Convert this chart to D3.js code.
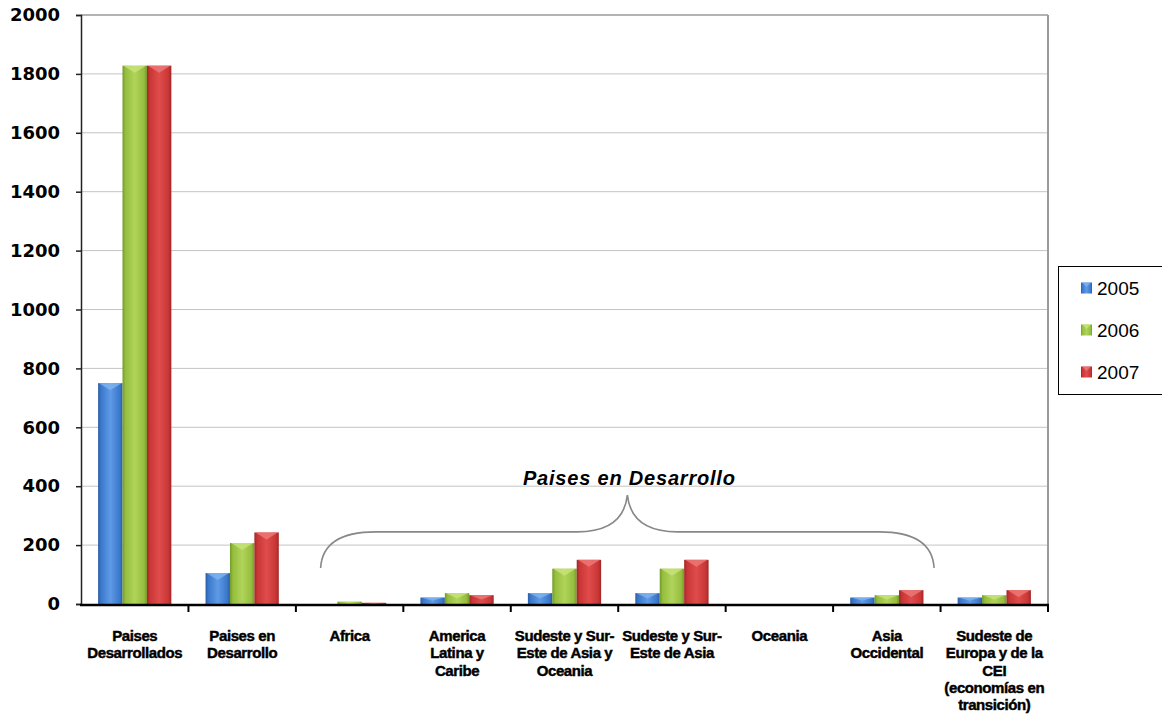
<!DOCTYPE html>
<html>
<head>
<meta charset="utf-8">
<script src="https://cdn.jsdelivr.net/npm/d3@7"></script>
<style>
  html, body { margin: 0; padding: 0; background: #fff; }
  svg { display: block; }
</style>
</head>
<body>
<svg id="chart" width="1162" height="716"></svg>
<script>
// ---- data ----
const categories = [
  "Paises Desarrollados",
  "Paises en Desarrollo",
  "Africa",
  "America Latina y Caribe",
  "Sudeste y Sur-Este de Asia y Oceania",
  "Sudeste y Sur-Este de Asia",
  "Oceania",
  "Asia Occidental",
  "Sudeste de Europa y de la CEI (economías en transición)"
];
const categoryLines = [
  ["Paises", "Desarrollados"],
  ["Paises en", "Desarrollo"],
  ["Africa"],
  ["America", "Latina y", "Caribe"],
  ["Sudeste y Sur-", "Este de Asia y", "Oceania"],
  ["Sudeste y Sur-", "Este de Asia"],
  ["Oceania"],
  ["Asia", "Occidental"],
  ["Sudeste de", "Europa y de la", "CEI", "(economías en", "transición)"]
];
const seriesNames = ["2005", "2006", "2007"];
const values2005 = [750, 105, 0, 22, 37, 37, 0, 22, 22];
const values2006 = [1828, 207, 8, 37, 120, 120, 0, 30, 30];
const values2007 = [1828, 243, 4, 30, 150, 150, 0, 47, 47];
const yTicks = [0, 200, 400, 600, 800, 1000, 1200, 1400, 1600, 1800, 2000];
const annotationText = "Paises en Desarrollo";
const seriesValues = [values2005, values2006, values2007];

const colors = {
  "2005": { base: "#3b78cb", light: "#5f9ae6", dark: "#2a5ea6", bevel: "#7fb4f0" },
  "2006": { base: "#95bd3e", light: "#b0d45a", dark: "#729a28", bevel: "#c8e47a" },
  "2007": { base: "#c93636", light: "#e04c4c", dark: "#a02626", bevel: "#ee7a7a" }
};

// ---- layout ----
const svg = d3.select("#chart");
const plot = { left: 81, right: 1048, top: 15, bottom: 604 };

const x0 = d3.scaleBand().domain(categories).range([plot.left, plot.right]).padding(0);
const x1 = d3.scaleBand().domain(seriesNames).range([0, x0.bandwidth()]).paddingInner(0).paddingOuter(0.7);
const y = d3.scaleLinear().domain([0, 2000]).range([plot.bottom, plot.top]);

// gradients
const defs = svg.append("defs");
seriesNames.forEach(s => {
  const g = defs.append("linearGradient").attr("id", "grad" + s)
    .attr("x1", "0%").attr("x2", "100%").attr("y1", "0%").attr("y2", "0%");
  g.append("stop").attr("offset", "0%").attr("stop-color", colors[s].dark);
  g.append("stop").attr("offset", "12%").attr("stop-color", colors[s].base);
  g.append("stop").attr("offset", "50%").attr("stop-color", colors[s].light);
  g.append("stop").attr("offset", "88%").attr("stop-color", colors[s].base);
  g.append("stop").attr("offset", "100%").attr("stop-color", colors[s].dark);
});

// background
svg.append("rect").attr("width", 1162).attr("height", 716).attr("fill", "#fff");

// gridlines
svg.append("g").selectAll("line")
  .data(yTicks.filter(t => t > 0))
  .join("line")
  .attr("x1", plot.left).attr("x2", plot.right)
  .attr("y1", d => y(d)).attr("y2", d => y(d))
  .attr("stroke", d => d === 2000 ? "#9a9a9a" : "#c4c4c4")
  .attr("stroke-width", d => d === 2000 ? 1.5 : 1);

// right border
svg.append("line")
  .attr("x1", plot.right).attr("x2", plot.right)
  .attr("y1", plot.top).attr("y2", plot.bottom)
  .attr("stroke", "#9a9a9a").attr("stroke-width", 2);

// bars
const flat = [];
categories.forEach((c, i) => {
  seriesNames.forEach((s, j) => {
    flat.push({ cat: c, series: s, value: seriesValues[j][i] });
  });
});

const barG = svg.append("g");
const bars = barG.selectAll("g.bar").data(flat.filter(d => d.value > 0)).join("g").attr("class", "bar");
bars.append("rect")
  .attr("x", d => x0(d.cat) + x1(d.series))
  .attr("y", d => y(d.value))
  .attr("width", x1.bandwidth())
  .attr("height", d => y(0) - y(d.value))
  .attr("fill", d => `url(#grad${d.series})`);
bars.append("path")
  .attr("d", d => {
    const xl = x0(d.cat) + x1(d.series);
    const w = x1.bandwidth();
    const top = y(d.value);
    const h = Math.min(7, (y(0) - top) * 0.5);
    return `M${xl + 1},${top}L${xl + w - 1},${top}L${xl + w / 2},${top + h}Z`;
  })
  .attr("fill", d => colors[d.series].bevel)
  .attr("opacity", 0.8);

// y axis
const yAxis = svg.append("g")
  .attr("transform", `translate(${plot.left},0)`)
  .call(d3.axisLeft(y).tickValues(yTicks).tickSize(5).tickPadding(16).tickFormat(d3.format("d")));
yAxis.select(".domain").attr("stroke", "#222").attr("stroke-width", 1.5);
yAxis.selectAll(".tick line").attr("stroke", "#222").attr("stroke-width", 1.5);
yAxis.selectAll(".tick text")
  .attr("font-family", "'DejaVu Sans', sans-serif")
  .attr("font-weight", "bold")
  .attr("font-size", 18)
  .attr("fill", "#000");

// x axis
const boundaries = categories.map(c => x0(c) + x0.bandwidth());
svg.append("line")
  .attr("x1", plot.left - 1).attr("x2", plot.right + 1)
  .attr("y1", y(0) + 1).attr("y2", y(0) + 1)
  .attr("stroke", "#000").attr("stroke-width", 2.5);
svg.append("g").selectAll("line").data(boundaries).join("line")
  .attr("x1", d => d).attr("x2", d => d)
  .attr("y1", y(0)).attr("y2", y(0) + 8)
  .attr("stroke", "#000").attr("stroke-width", 2);

// x labels
const xl = svg.append("g");
categories.forEach((c, i) => {
  const t = xl.append("text")
    .attr("x", x0(c) + x0.bandwidth() / 2)
    .attr("y", 641)
    .attr("text-anchor", "middle")
    .attr("font-family", "'Liberation Sans', Arial, sans-serif")
    .attr("font-weight", "bold")
    .attr("font-size", 15)
    .attr("letter-spacing", -0.4)
    .attr("stroke", "#000").attr("stroke-width", 0.45)
    .attr("fill", "#000");
  categoryLines[i].forEach((ln, k) => {
    t.append("tspan").attr("x", x0(c) + x0.bandwidth() / 2).attr("dy", k === 0 ? 0 : 17.3).text(ln);
  });
});

// brace annotation
const L = x0("Africa") + 0.23 * x0.bandwidth();
const R = x0("Asia Occidental") + 0.94 * x0.bandwidth();
const M = (L + R) / 2;
const yE = y(122), yH = y(245), yP = y(370);
const bracePath = `M${L},${yE} Q${L + 2},${yH} ${L + 55},${yH} L${M - 50},${yH} Q${M - 4},${yH} ${M},${yP}` +
  ` Q${M + 4},${yH} ${M + 50},${yH} L${R - 55},${yH} Q${R - 2},${yH} ${R},${yE}`;
svg.append("path").attr("d", bracePath)
  .attr("fill", "none").attr("stroke", "#888").attr("stroke-width", 1.6);
svg.append("text")
  .attr("x", M + 2).attr("y", y(405))
  .attr("text-anchor", "middle")
  .attr("font-family", "'Liberation Sans', Arial, sans-serif")
  .attr("font-weight", "bold").attr("font-style", "italic")
  .attr("font-size", 20).attr("letter-spacing", 0.8)
  .attr("fill", "#000")
  .text(annotationText);

// legend
const lg = svg.append("g");
lg.append("rect").attr("x", 1058.5).attr("y", 266.5).attr("width", 120).attr("height", 128)
  .attr("fill", "#fff").attr("stroke", "#000").attr("stroke-width", 1);
const ly = d3.scalePoint().domain(seriesNames).range([288, 372]);
seriesNames.forEach(s => {
  lg.append("rect").attr("x", 1081).attr("y", ly(s) - 5.5).attr("width", 11).attr("height", 11)
    .attr("fill", `url(#grad${s})`);
  lg.append("path")
    .attr("d", `M1082,${ly(s) - 5.5}L1091,${ly(s) - 5.5}L1086.5,${ly(s) - 1}Z`)
    .attr("fill", colors[s].bevel).attr("opacity", 0.8);
  lg.append("text").attr("x", 1097).attr("y", ly(s)).attr("dy", "0.36em")
    .attr("font-family", "'Liberation Sans', Arial, sans-serif")
    .attr("font-size", 19).attr("fill", "#000").text(s);
});
</script>
</body>
</html>
